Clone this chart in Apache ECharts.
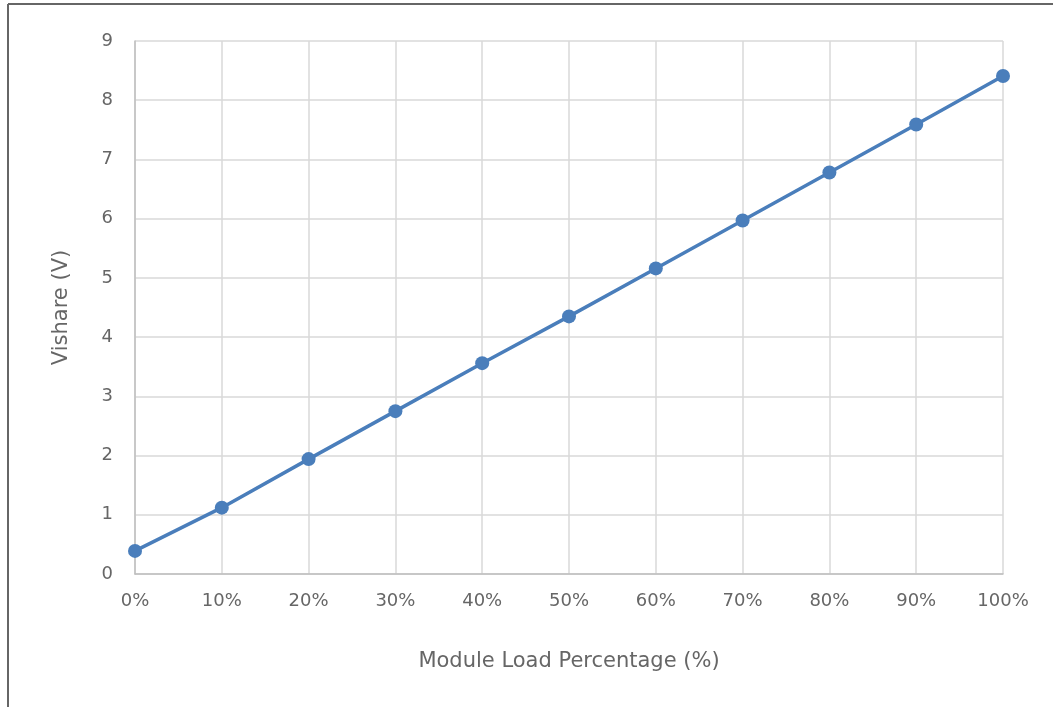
<!DOCTYPE html>
<html><head><meta charset="utf-8">
<script src="https://cdn.jsdelivr.net/npm/echarts@6/dist/echarts.min.js"></script>
<style>html,body{margin:0;padding:0;background:#fff}#c{width:1053px;height:707px}</style>
</head><body><div id="c"></div>
<script>
const categories = ['0%','10%','20%','30%','40%','50%','60%','70%','80%','90%','100%'];
const vishare = [0.39, 1.12, 1.94, 2.75, 3.56, 4.35, 5.16, 5.97, 6.78, 7.59, 8.41];
const yTicks = [0,1,2,3,4,5,6,7,8,9];
const FONT = 'DejaVu Sans';
const chart = echarts.init(document.getElementById('c'));
chart.setOption({
  animation: false,
  graphic: [
    {type:'line', shape:{x1:8,y1:4,x2:1053,y2:4}, style:{stroke:'#666',lineWidth:2}},
    {type:'line', shape:{x1:8,y1:4,x2:8,y2:707}, style:{stroke:'#666',lineWidth:2}}
  ],
  grid: {left:135, right:50, top:41, bottom:133, containLabel:false},
  xAxis: {
    type:'category', data: categories, boundaryGap:false,
    name:'Module Load Percentage (%)', nameLocation:'middle', nameGap:77,
    nameTextStyle:{color:'#666', fontSize:21, fontFamily:FONT},
    axisLine:{lineStyle:{color:'#bfbfbf', width:1.5}},
    axisTick:{show:false},
    axisLabel:{color:'#666', fontSize:18, fontFamily:FONT, margin:18},
    splitLine:{show:true, lineStyle:{color:'#d9d9d9', width:1.5}}
  },
  yAxis: {
    type:'value', min:yTicks[0], max:yTicks[yTicks.length-1], interval:1,
    name:'Vishare (V)', nameLocation:'middle', nameGap:63, nameRotate:90,
    nameTextStyle:{color:'#666', fontSize:21, fontFamily:FONT},
    axisLine:{show:true, lineStyle:{color:'#bfbfbf', width:1.5}},
    axisTick:{show:false},
    axisLabel:{color:'#666', fontSize:18, fontFamily:FONT, margin:22},
    splitLine:{show:true, lineStyle:{color:'#d9d9d9', width:1.5}}
  },
  series: [{
    type:'line', data: vishare,
    lineStyle:{color:'#4a7ebb', width:3.5},
    itemStyle:{color:'#4a7ebb'},
    symbol:'circle', symbolSize:14
  }]
});
</script></body></html>
